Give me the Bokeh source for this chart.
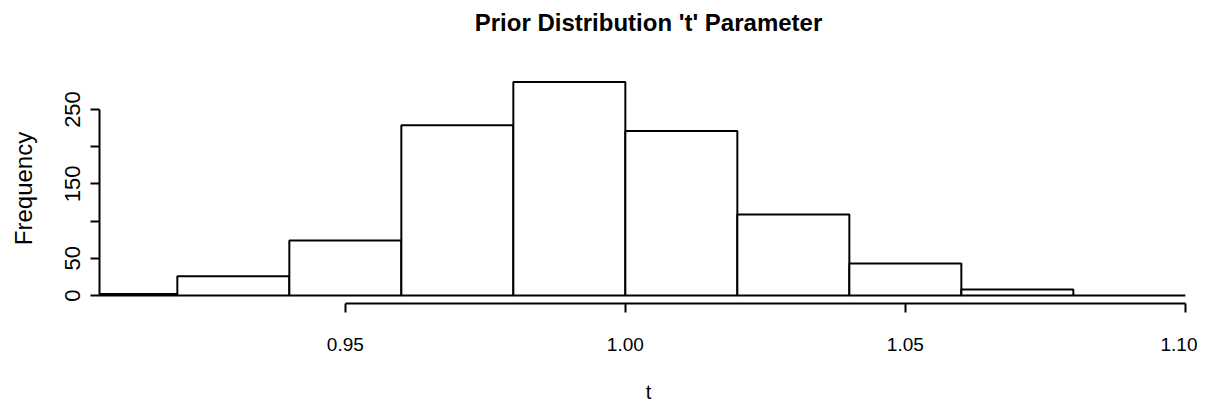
from bokeh.plotting import figure
from bokeh.models import Range1d, FixedTicker, Title
from bokeh.embed import file_html
from bokeh.resources import INLINE

# ---- data ----
bin_left = [0.90, 0.92, 0.94, 0.96, 0.98, 1.00, 1.02, 1.04, 1.06, 1.08]
bin_right = [0.92, 0.94, 0.96, 0.98, 1.00, 1.02, 1.04, 1.06, 1.08, 1.10]
counts = [2, 26, 74, 229, 287, 221, 109, 43, 8, 0]

x_ticks = [0.95, 1.00, 1.05, 1.10]
x_tick_labels = ["0.95", "1.00", "1.05", "1.10"]
y_ticks = [0, 50, 100, 150, 200, 250]
y_tick_labels = ["0", "50", "", "150", "", "250"]

title_text = "Prior Distribution 't' Parameter"
x_label = "t"
y_label = "Frequency"

FONT = "'Liberation Sans', Arial, sans-serif"

p = figure(width=1197, height=411, output_backend="svg", toolbar_location=None,
           x_range=Range1d(0.9061, 1.10217), y_range=Range1d(-10.75, 298.4),
           min_border_left=99, min_border_right=0, min_border_top=73,
           min_border_bottom=108)

p.quad(left=bin_left, right=bin_right, top=counts, bottom=0,
       fill_color="white", line_color="black", line_width=2)

p.title.text = title_text
p.title.align = "center"
p.title.text_font = FONT
p.title.text_font_size = "24px"
p.title.text_font_style = "bold"
p.title.text_color = "black"

# blank spacer panel between the frame and the title
p.add_layout(Title(text=" ", text_font_size="19px"), "above")

p.grid.visible = False
p.outline_line_color = None
p.background_fill_color = "white"
p.border_fill_color = "white"

xa = p.xaxis[0]
xa.bounds = (x_ticks[0], x_ticks[-1])
xa.ticker = FixedTicker(ticks=x_ticks)
xa.major_label_overrides = {t: l for t, l in zip(x_ticks, x_tick_labels)}
xa.minor_tick_line_color = None
xa.axis_line_width = 2
xa.major_tick_line_width = 2
xa.major_tick_out = 9
xa.major_tick_in = 0
xa.major_label_standoff = 25
xa.major_label_text_font = FONT
xa.major_label_text_font_size = "19px"
xa.major_label_text_color = "black"
xa.axis_label = x_label
xa.axis_label_text_font = FONT
xa.axis_label_text_font_size = "20px"
xa.axis_label_text_font_style = "normal"
xa.axis_label_text_color = "black"
xa.axis_label_standoff = 27

ya = p.yaxis[0]
ya.bounds = (y_ticks[0], y_ticks[-1])
ya.ticker = FixedTicker(ticks=y_ticks)
ya.major_label_overrides = {t: l for t, l in zip(y_ticks, y_tick_labels)}
ya.minor_tick_line_color = None
ya.axis_line_width = 2
ya.major_tick_line_width = 2
ya.major_tick_out = 9
ya.major_tick_in = 0
ya.major_label_orientation = "vertical"
ya.major_label_standoff = 10
ya.major_label_text_font = FONT
ya.major_label_text_font_size = "22px"
ya.major_label_text_color = "black"
ya.axis_label = y_label
ya.axis_label_text_font = FONT
ya.axis_label_text_font_size = "24px"
ya.axis_label_text_font_style = "normal"
ya.axis_label_text_color = "black"
ya.axis_label_standoff = 26

open("out.html", "w").write(file_html(p, INLINE))
